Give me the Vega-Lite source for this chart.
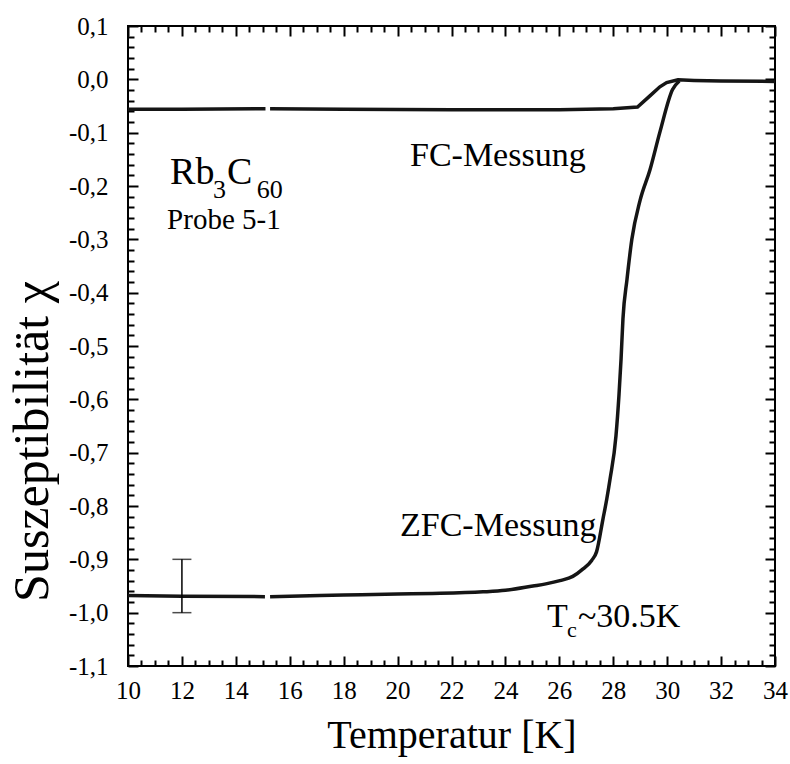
{
  "$schema": "https://vega.github.io/schema/vega-lite/v6.json",
  "width": 647,
  "height": 640,
  "autosize": "none",
  "padding": {"left": 128, "top": 26, "right": 15, "bottom": 98},
  "background": "white",
  "config": {
    "view": {"stroke": "#000", "strokeWidth": 2},
    "font": "Liberation Serif",
    "axis": {"domain": false, "grid": false, "tickColor": "#000", "tickWidth": 2, "labelColor": "#000", "titleColor": "#000", "labelFont": "Liberation Serif", "titleFont": "Liberation Serif", "titleFontWeight": "normal", "labelOverlap": false, "labelFlush": false, "labelBound": false}
  },
  "datasets": {
    "fc": [
      {"T": 10, "chi": -0.056, "seg": "a"},
      {"T": 12, "chi": -0.056, "seg": "a"},
      {"T": 15.1, "chi": -0.055, "seg": "a"},
      {"T": 15.27, "chi": -0.055, "seg": "b"},
      {"T": 18, "chi": -0.056, "seg": "b"},
      {"T": 22, "chi": -0.057, "seg": "b"},
      {"T": 26, "chi": -0.057, "seg": "b"},
      {"T": 28, "chi": -0.055, "seg": "b"},
      {"T": 28.9, "chi": -0.052, "seg": "b"},
      {"T": 29.36, "chi": -0.031, "seg": "b"},
      {"T": 29.73, "chi": -0.014, "seg": "b"},
      {"T": 29.98, "chi": -0.006, "seg": "b"},
      {"T": 30.4, "chi": -0.001, "seg": "b"},
      {"T": 31, "chi": -0.002, "seg": "b"},
      {"T": 32, "chi": -0.003, "seg": "b"},
      {"T": 34, "chi": -0.004, "seg": "b"}
    ],
    "zfc": [
      {"T": 10, "chi": -0.968, "seg": "a"},
      {"T": 12, "chi": -0.969, "seg": "a"},
      {"T": 15.08, "chi": -0.97, "seg": "a"},
      {"T": 15.27, "chi": -0.97, "seg": "b"},
      {"T": 16, "chi": -0.969, "seg": "b"},
      {"T": 18, "chi": -0.967, "seg": "b"},
      {"T": 20, "chi": -0.965, "seg": "b"},
      {"T": 21.3, "chi": -0.964, "seg": "b"},
      {"T": 23.17, "chi": -0.961, "seg": "b"},
      {"T": 24, "chi": -0.958, "seg": "b"},
      {"T": 25.02, "chi": -0.95, "seg": "b"},
      {"T": 25.5, "chi": -0.946, "seg": "b"},
      {"T": 26.02, "chi": -0.94, "seg": "b"},
      {"T": 26.5, "chi": -0.932, "seg": "b"},
      {"T": 26.88, "chi": -0.918, "seg": "b"},
      {"T": 27.2, "chi": -0.902, "seg": "b"},
      {"T": 27.38, "chi": -0.886, "seg": "b"},
      {"T": 27.62, "chi": -0.824, "seg": "b"},
      {"T": 27.76, "chi": -0.787, "seg": "b"},
      {"T": 27.88, "chi": -0.75, "seg": "b"},
      {"T": 28.1, "chi": -0.669, "seg": "b"},
      {"T": 28.21, "chi": -0.594, "seg": "b"},
      {"T": 28.29, "chi": -0.524, "seg": "b"},
      {"T": 28.36, "chi": -0.449, "seg": "b"},
      {"T": 28.51, "chi": -0.375, "seg": "b"},
      {"T": 28.69, "chi": -0.3, "seg": "b"},
      {"T": 28.99, "chi": -0.228, "seg": "b"},
      {"T": 29.36, "chi": -0.17, "seg": "b"},
      {"T": 29.73, "chi": -0.099, "seg": "b"},
      {"T": 30.2, "chi": -0.019, "seg": "b"},
      {"T": 30.45, "chi": -0.003, "seg": "b"}
    ],
    "err": [{"T": 12, "lo": -1.0, "hi": -0.9}],
    "caps": [{"T": 12, "chi": -1.0}, {"T": 12, "chi": -0.9}],
    "big": [{"T": 11.56, "chi": -0.197, "txt": "Rb"}, {"T": 13.67, "chi": -0.197, "txt": "C"}],
    "sub": [{"T": 13.15, "chi": -0.223, "txt": "3"}, {"T": 14.78, "chi": -0.223, "txt": "60"}],
    "probe": [{"T": 11.45, "chi": -0.281, "txt": "Probe 5-1"}],
    "mid": [
      {"T": 20.46, "chi": -0.163, "txt": "FC-Messung"},
      {"T": 20.09, "chi": -0.856, "txt": "ZFC-Messung"},
      {"T": 25.54, "chi": -1.026, "txt": "T"},
      {"T": 26.69, "chi": -1.026, "txt": "~30.5K"}
    ],
    "csub": [{"T": 26.28, "chi": -1.045, "txt": "c"}]
  },
  "layer": [
    {
      "data": {"name": "fc"},
      "mark": {"type": "line", "color": "#151515", "strokeWidth": 3.5},
      "encoding": {
        "x": {"field": "T", "type": "quantitative", "scale": {"domain": [10, 34], "nice": false, "zero": false},
          "axis": {
            "orient": "bottom",
            "values": [10,12,14,16,18,20,22,24,26,28,30,32,34],
            "ticks": false,
            "labelExpr": "'' + datum.value",
            "labelFontSize": 25,
            "labelPadding": 12,
            "labelBaseline": "top",
            "title": "Temperatur [K]",
            "titleFontSize": 40,
            "titleY": 81,
            "titleBaseline": "alphabetic"
          }
        },
        "y": {"field": "chi", "type": "quantitative", "scale": {"domain": [-1.1, 0.1], "nice": false, "zero": false},
          "axis": {
            "orient": "left",
            "values": [-1.1,-1,-0.9,-0.8,-0.7,-0.6,-0.5,-0.4,-0.3,-0.2,-0.1,0,0.1],
            "ticks": false,
            "labelExpr": "replace(replace(format(datum.value, '.1f'), '.', ','), '\u2212', '-')",
            "labelFontSize": 25,
            "labelPadding": 20,
            "title": "Suszeptibilität  χ",
            "titleFontSize": 50,
            "titleAngle": -90,
            "titleX": -81,
            "titleY": 415,
            "titleAlign": "center",
            "titleBaseline": "alphabetic"
          }
        },
        "detail": {"field": "seg"}
      }
    },
    {
      "data": {"name": "zfc"},
      "mark": {"type": "line", "color": "#151515", "strokeWidth": 3.5, "interpolate": "monotone"},
      "encoding": {
        "x": {"field": "T", "type": "quantitative", "scale": {"domain": [10, 34], "nice": false, "zero": false},
          "axis": {
            "orient": "top",
            "offset": -640,
            "values": [10,10.5,11,11.5,12,12.5,13,13.5,14,14.5,15,15.5,16,16.5,17,17.5,18,18.5,19,19.5,20,20.5,21,21.5,22,22.5,23,23.5,24,24.5,25,25.5,26,26.5,27,27.5,28,28.5,29,29.5,30,30.5,31,31.5,32,32.5,33,33.5,34],
            "tickSize": {"condition": {"test": "datum.value % 2 === 0", "value": 10}, "value": 6},
            "labels": false,
            "title": null
          }
        },
        "y": {"field": "chi", "type": "quantitative", "scale": {"domain": [-1.1, 0.1], "nice": false, "zero": false},
          "axis": {
            "orient": "right",
            "offset": -647,
            "values": [-1.1,-1.08,-1.06,-1.04,-1.02,-1,-0.98,-0.96,-0.94,-0.92,-0.9,-0.88,-0.86,-0.84,-0.82,-0.8,-0.78,-0.76,-0.74,-0.72,-0.7,-0.68,-0.66,-0.64,-0.62,-0.6,-0.58,-0.56,-0.54,-0.52,-0.5,-0.48,-0.46,-0.44,-0.42,-0.4,-0.38,-0.36,-0.34,-0.32,-0.3,-0.28,-0.26,-0.24,-0.22,-0.2,-0.18,-0.16,-0.14,-0.12,-0.1,-0.08,-0.06,-0.04,-0.02,0,0.02,0.04,0.06,0.08,0.1],
            "tickSize": {"condition": {"test": "abs(datum.value*10 - round(datum.value*10)) < 0.001", "value": 10}, "value": 6},
            "labels": false,
            "title": null
          }
        },
        "detail": {"field": "seg"}
      }
    },
    {
      "data": {"name": "err"},
      "mark": {"type": "rule", "color": "#000", "strokeWidth": 1.5},
      "encoding": {
        "x": {"field": "T", "type": "quantitative", "scale": {"domain": [10, 34], "nice": false, "zero": false},
          "axis": {
            "orient": "bottom",
            "offset": -640,
            "values": [10,10.5,11,11.5,12,12.5,13,13.5,14,14.5,15,15.5,16,16.5,17,17.5,18,18.5,19,19.5,20,20.5,21,21.5,22,22.5,23,23.5,24,24.5,25,25.5,26,26.5,27,27.5,28,28.5,29,29.5,30,30.5,31,31.5,32,32.5,33,33.5,34],
            "tickSize": {"condition": {"test": "datum.value % 2 === 0", "value": 10}, "value": 6},
            "labels": false,
            "title": null
          }
        },
        "y": {"field": "lo", "type": "quantitative", "scale": {"domain": [-1.1, 0.1], "nice": false, "zero": false},
          "axis": {
            "orient": "left",
            "offset": -647,
            "values": [-1.1,-1.08,-1.06,-1.04,-1.02,-1,-0.98,-0.96,-0.94,-0.92,-0.9,-0.88,-0.86,-0.84,-0.82,-0.8,-0.78,-0.76,-0.74,-0.72,-0.7,-0.68,-0.66,-0.64,-0.62,-0.6,-0.58,-0.56,-0.54,-0.52,-0.5,-0.48,-0.46,-0.44,-0.42,-0.4,-0.38,-0.36,-0.34,-0.32,-0.3,-0.28,-0.26,-0.24,-0.22,-0.2,-0.18,-0.16,-0.14,-0.12,-0.1,-0.08,-0.06,-0.04,-0.02,0,0.02,0.04,0.06,0.08,0.1],
            "tickSize": {"condition": {"test": "abs(datum.value*10 - round(datum.value*10)) < 0.001", "value": 10}, "value": 6},
            "labels": false,
            "title": null
          }
        },
        "y2": {"field": "hi"}
      }
    },
    {
      "mark": {"type": "rule", "color": "#000", "strokeWidth": 1.5},
      "encoding": {"y": {"datum": 0, "type": "quantitative", "scale": {"domain": [-1.1, 0.1], "nice": false, "zero": false}, "axis": null}}
    },
    {
      "mark": {"type": "rule", "color": "#000", "strokeWidth": 1.5},
      "encoding": {"x": {"datum": 30.5, "type": "quantitative", "scale": {"domain": [10, 34], "nice": false, "zero": false}, "axis": null}}
    },
    {
      "data": {"name": "caps"},
      "mark": {"type": "tick", "orient": "horizontal", "color": "#000", "size": 19, "thickness": 1.5},
      "encoding": {
        "x": {"field": "T", "type": "quantitative", "axis": null},
        "y": {"field": "chi", "type": "quantitative", "axis": null}
      }
    },
    {
      "data": {"name": "big"},
      "mark": {"type": "text", "font": "Liberation Serif", "fontSize": 38, "align": "left", "baseline": "alphabetic", "color": "#000"},
      "encoding": {
        "x": {"field": "T", "type": "quantitative", "axis": null},
        "y": {"field": "chi", "type": "quantitative", "axis": null},
        "text": {"field": "txt"}
      }
    },
    {
      "data": {"name": "sub"},
      "mark": {"type": "text", "font": "Liberation Serif", "fontSize": 26, "align": "left", "baseline": "alphabetic", "color": "#000"},
      "encoding": {
        "x": {"field": "T", "type": "quantitative", "axis": null},
        "y": {"field": "chi", "type": "quantitative", "axis": null},
        "text": {"field": "txt"}
      }
    },
    {
      "data": {"name": "probe"},
      "mark": {"type": "text", "font": "Liberation Serif", "fontSize": 29, "align": "left", "baseline": "alphabetic", "color": "#000"},
      "encoding": {
        "x": {"field": "T", "type": "quantitative", "axis": null},
        "y": {"field": "chi", "type": "quantitative", "axis": null},
        "text": {"field": "txt"}
      }
    },
    {
      "data": {"name": "mid"},
      "mark": {"type": "text", "font": "Liberation Serif", "fontSize": 34, "align": "left", "baseline": "alphabetic", "color": "#000"},
      "encoding": {
        "x": {"field": "T", "type": "quantitative", "axis": null},
        "y": {"field": "chi", "type": "quantitative", "axis": null},
        "text": {"field": "txt"}
      }
    },
    {
      "data": {"name": "csub"},
      "mark": {"type": "text", "font": "Liberation Serif", "fontSize": 22, "align": "left", "baseline": "alphabetic", "color": "#000"},
      "encoding": {
        "x": {"field": "T", "type": "quantitative", "axis": null},
        "y": {"field": "chi", "type": "quantitative", "axis": null},
        "text": {"field": "txt"}
      }
    }
  ],
  "resolve": {"axis": {"x": "independent", "y": "independent"}}
}
